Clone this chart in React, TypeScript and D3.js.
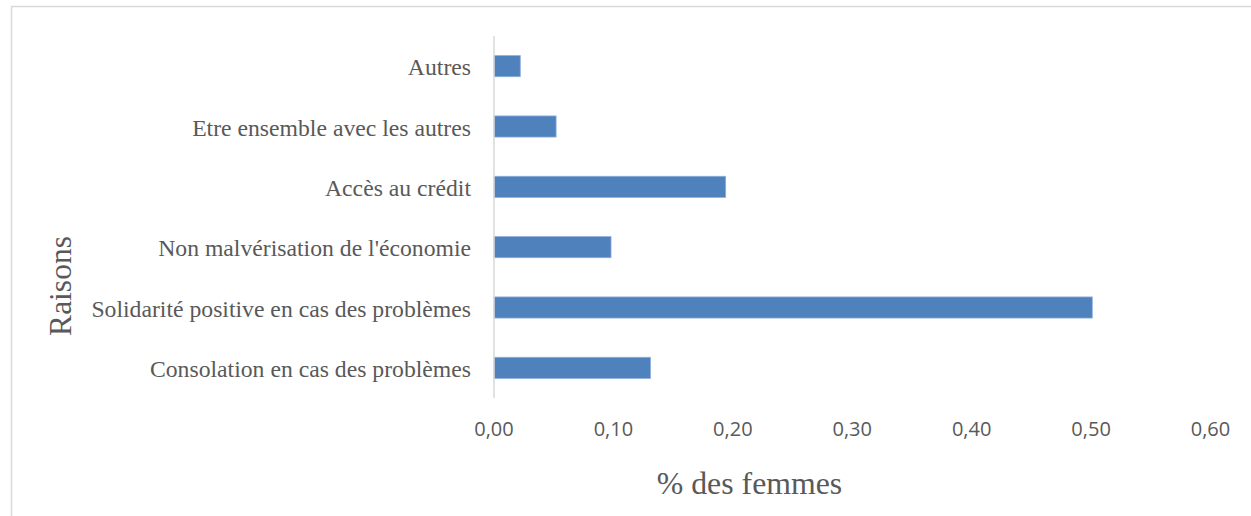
import React from "react";
import * as d3 from "d3";

const categories = [
  "Autres",
  "Etre ensemble avec les autres",
  "Accès au crédit",
  "Non malvérisation de l'économie",
  "Solidarité positive en cas des problèmes",
  "Consolation en cas des problèmes",
];
const values = [0.022, 0.052, 0.194, 0.098, 0.501, 0.131];
const ticks = [0, 0.1, 0.2, 0.3, 0.4, 0.5, 0.6];

const W = 1251;
const H = 516;

export default function App() {
  const x = d3.scaleLinear().domain([0, 0.6]).range([494, 1210.5]);
  const y = d3.scaleBand<string>().domain(categories).range([36, 398]).paddingInner(0.65).paddingOuter(0.325);
  const fmt = (v: number) => v.toFixed(2).replace(".", ",");
  const serif = "'Liberation Serif', 'Times New Roman', serif";
  return (
    <svg width={W} height={H} style={{ position: "absolute", left: 0, top: 0, background: "#fff" }}>
      <rect x={11.5} y={6.5} width={1260} height={520} fill="#fff" stroke="#d9d9d9" strokeWidth={1.5} />
      {categories.map((c, i) => (
        <rect
          key={c}
          x={x(0)}
          y={y(c)!}
          width={x(values[i]) - x(0)}
          height={y.bandwidth()}
          fill="#4f81bd"
          stroke="#8eaedb"
          strokeWidth={0.8}
        />
      ))}
      <line x1={x(0)} x2={x(0)} y1={36} y2={398} stroke="#d9d9d9" strokeWidth={1.5} />
      {categories.map((c) => (
        <text
          key={c}
          x={471}
          y={y(c)! + y.bandwidth() / 2 + 9}
          textAnchor="end"
          fontFamily={serif}
          fontSize={23.7}
          fill="#595959"
        >
          {c}
        </text>
      ))}
      {ticks.map((t) => (
        <text
          key={t}
          x={x(t)}
          y={436}
          textAnchor="middle"
          fontFamily="'Open Sans', sans-serif"
          fontSize={20}
          fill="#595959"
        >
          {fmt(t)}
        </text>
      ))}
      <text x={749.5} y={494} textAnchor="middle" fontFamily={serif} fontSize={31.8} fill="#595959">
        % des femmes
      </text>
      <text
        transform={`translate(71,286) rotate(-90)`}
        textAnchor="middle"
        fontFamily={serif}
        fontSize={31.5}
        fill="#595959"
      >
        Raisons
      </text>
    </svg>
  );
}
